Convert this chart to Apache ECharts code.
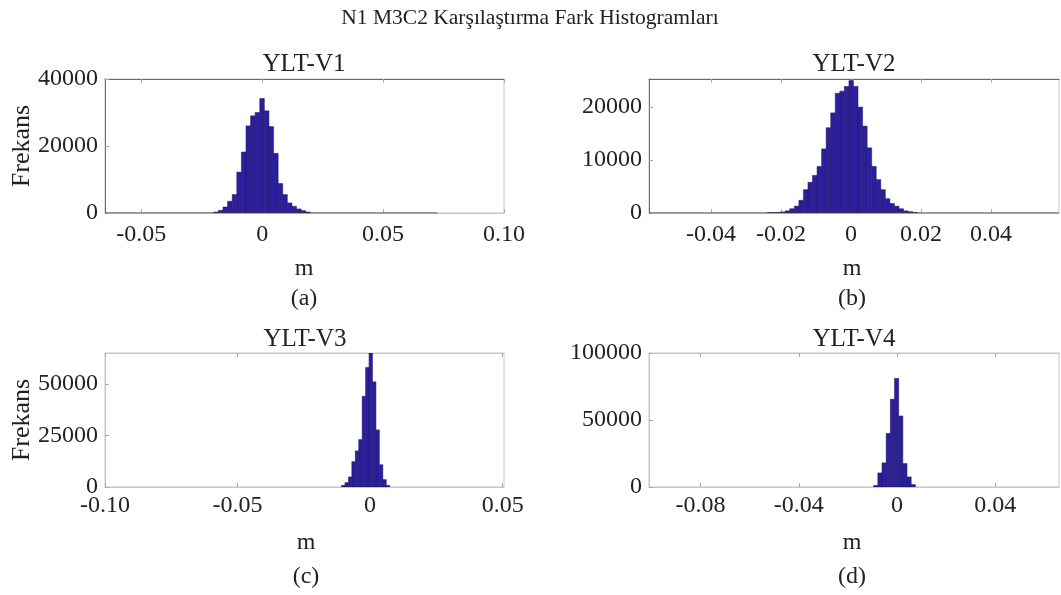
<!DOCTYPE html>
<html>
<head>
<meta charset="utf-8">
<script src="https://cdn.jsdelivr.net/npm/echarts@6/dist/echarts.min.js"></script>
<style>
  html, body { margin: 0; padding: 0; background: #fff; }
  #main { width: 1061px; height: 595px; }
</style>
</head>
<body>
<div id="main"></div>
<script>
// histogram counts (uniform bins)
var countsA = [300, 800, 1800, 3500, 5500, 12200, 18200, 26000, 29000, 30000, 34200, 30500, 25800, 17800, 8800, 5500, 3000, 2000, 1200, 700, 300];
var binStartA = -0.02, binWidthA = 0.0019;

var countsB = [50, 80, 120, 200, 400, 800, 1300, 2400, 4400, 5800, 7100, 8800, 12100, 16100, 18900, 22600, 23000, 23900, 25000, 23900, 20000, 16400, 12300, 8800, 6300, 4400, 2700, 1800, 1300, 800, 400, 250, 100];
var binStartB = -0.024, binWidthB = 0.0013;

var countsC = [800, 2100, 4900, 12300, 17500, 23000, 44000, 58000, 65000, 51000, 27700, 10800, 3600, 800];
var binStartC = -0.0108, binWidthC = 0.0013;

var countsD = [1200, 10500, 18000, 40000, 65500, 81000, 53000, 17500, 7500, 1800];
var binStartD = -0.0095, binWidthD = 0.0017;

// axis ranges and ticks
var xRangeA = [-0.065, 0.1],    xTicksA = [-0.05, 0, 0.05, 0.1],     xLabelsA = ['-0.05', '0', '0.05', '0.10'];
var xRangeB = [-0.0577, 0.0594], xTicksB = [-0.04, -0.02, 0, 0.02, 0.04], xLabelsB = ['-0.04', '-0.02', '0', '0.02', '0.04'];
var xRangeC = [-0.1, 0.0505],   xTicksC = [-0.1, -0.05, 0, 0.05],   xLabelsC = ['-0.10', '-0.05', '0', '0.05'];
var xRangeD = [-0.101, 0.066],  xTicksD = [-0.08, -0.04, 0, 0.04],  xLabelsD = ['-0.08', '-0.04', '0', '0.04'];

var yMaxA = 40000,  yTicksA = [0, 20000, 40000];
var yMaxB = 25300,  yTicksB = [0, 10000, 20000];
var yMaxC = 65000,  yTicksC = [0, 25000, 50000];
var yMaxD = 100000, yTicksD = [0, 50000, 100000];

// zero-count bins drawn along the baseline (a, b)
var baseEdgeA = [-0.065, 0.0725];
var baseEdgeB = [-0.0577, 0.0594];

var titles = ['YLT-V1', 'YLT-V2', 'YLT-V3', 'YLT-V4'];
var captions = ['(a)', '(b)', '(c)', '(d)'];

var FONT = 'Liberation Serif';
var myChart = echarts.init(document.getElementById('main'));

function bins(counts, start, w) {
    return counts.map(function (c, i) { return [start + i * w, start + (i + 1) * w, c]; });
}

var panels = [
    { grid: { left: 105, top: 79, width: 399, height: 134 }, range: xRangeA, ticks: xTicksA, labels: xLabelsA, ymax: yMaxA, yticks: yTicksA, data: bins(countsA, binStartA, binWidthA), base: baseEdgeA, dark: true },
    { grid: { left: 649, top: 79, width: 410, height: 134 }, range: xRangeB, ticks: xTicksB, labels: xLabelsB, ymax: yMaxB, yticks: yTicksB, data: bins(countsB, binStartB, binWidthB), base: baseEdgeB, dark: true },
    { grid: { left: 105, top: 353, width: 399, height: 134 }, range: xRangeC, ticks: xTicksC, labels: xLabelsC, ymax: yMaxC, yticks: yTicksC, data: bins(countsC, binStartC, binWidthC), base: null, dark: false },
    { grid: { left: 649, top: 353, width: 410, height: 134 }, range: xRangeD, ticks: xTicksD, labels: xLabelsD, ymax: yMaxD, yticks: yTicksD, data: bins(countsD, binStartD, binWidthD), base: null, dark: false }
];

var grids = [], xAxes = [], yAxes = [], series = [];
panels.forEach(function (p, k) {
    var lineCol = p.dark ? '#6a6a6a' : '#c4c4c4';
    grids.push(Object.assign({ show: true, borderColor: '#c8c8c8', borderWidth: 1 }, p.grid));
    // bottom axis
    xAxes.push({
        type: 'value', gridIndex: k, min: p.range[0], max: p.range[1], position: 'bottom',
        splitLine: { show: false },
        axisLine: { show: true, onZero: false, lineStyle: { color: '#c4c4c4', width: 1 } },
        axisTick: { show: true, inside: true, length: 4, customValues: p.ticks, lineStyle: { color: '#aaa' } },
        axisLabel: {
            customValues: p.ticks, margin: k < 2 ? 10 : 7, color: '#222', fontFamily: FONT, fontSize: 24,
            formatter: (function (tk, lb) { return function (v) { var i = tk.indexOf(v); return i >= 0 ? lb[i] : ''; }; })(p.ticks, p.labels)
        }
    });
    // top border with ticks
    xAxes.push({
        type: 'value', gridIndex: k, min: p.range[0], max: p.range[1], position: 'top',
        splitLine: { show: false },
        axisLine: { show: true, onZero: false, lineStyle: { color: lineCol, width: 1 } },
        axisTick: { show: true, inside: true, length: 4, customValues: p.ticks, lineStyle: { color: '#aaa' } },
        axisLabel: { show: false }
    });
    yAxes.push({
        type: 'value', gridIndex: k, min: 0, max: p.ymax, position: 'left',
        splitLine: { show: false },
        axisLine: { show: true, onZero: false, lineStyle: { color: lineCol, width: 1 } },
        axisTick: { show: true, inside: true, length: 4, customValues: p.yticks, lineStyle: { color: '#aaa' } },
        axisLabel: { customValues: p.yticks, margin: 7, color: '#222', fontFamily: FONT, fontSize: 24, formatter: function (v) { return String(v); } }
    });
    series.push({
        type: 'custom', xAxisIndex: 2 * k, yAxisIndex: k, clip: true,
        data: p.data,
        renderItem: function (params, api) {
            var p0 = api.coord([api.value(0), 0]);
            var p1 = api.coord([api.value(1), api.value(2)]);
            return {
                type: 'rect',
                shape: { x: p0[0], y: p1[1], width: p1[0] - p0[0], height: p0[1] - p1[1] },
                style: { fill: '#2d1f9b', stroke: '#1b1266', lineWidth: 0.5 }
            };
        },
        silent: true
    });
    if (p.base) {
        series.push({
            type: 'line', xAxisIndex: 2 * k, yAxisIndex: k, symbol: 'none', silent: true,
            data: [[p.base[0], 0], [p.base[1], 0]],
            lineStyle: { color: '#444', width: 1.2 }
        });
    }
});

function txt(x, y, s, size, rot) {
    return { type: 'text', x: x, y: y, rotation: rot || 0, silent: true,
        style: { text: s, fontFamily: FONT, fontSize: size, fill: '#222', align: 'center', verticalAlign: 'middle' } };
}

var graphics = [
    txt(530, 18, 'N1 M3C2 Karşılaştırma Fark Histogramları', 21.5),
    txt(304, 64, titles[0], 25), txt(854, 64, titles[1], 25),
    txt(305, 339, titles[2], 25), txt(854, 339, titles[3], 25),
    txt(304, 269, 'm', 24), txt(852, 269, 'm', 24),
    txt(306, 543, 'm', 24), txt(852, 543, 'm', 24),
    txt(304, 299, captions[0], 24), txt(852, 299, captions[1], 24),
    txt(306, 577, captions[2], 24), txt(852, 577, captions[3], 24),
    txt(22, 146, 'Frekans', 26, Math.PI / 2),
    txt(22, 420, 'Frekans', 26, Math.PI / 2)
];

option = {
    backgroundColor: '#fff',
    animation: false,
    grid: grids,
    xAxis: xAxes,
    yAxis: yAxes,
    series: series,
    graphic: graphics
};
myChart.setOption(option);
</script>
</body>
</html>
